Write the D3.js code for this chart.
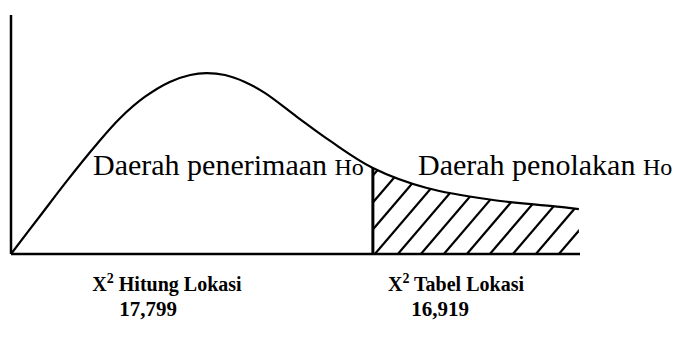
<!DOCTYPE html>
<html>
<head>
<meta charset="utf-8">
<script src="https://cdn.jsdelivr.net/npm/d3@7"></script>
<style>
  html, body { margin: 0; padding: 0; background: #fff; }
  svg { display: block; }
  text { font-family: "Liberation Serif", "Times New Roman", serif; fill: #000; }
</style>
</head>
<body>
<svg id="chart" width="675" height="339"></svg>
<script>
// Chi-square density sketch (arbitrary units, 0–100 on both axes)
const curveX = [0, 5.1, 9.8, 14.8, 19.2, 23.5, 27.9, 31.5, 34.3, 37.6, 41.1, 44.6, 50.3, 56.1, 63.6, 73.1, 84.7, 96.5, 99.8];
const curveY = [0, 15.9, 30.5, 45.2, 56.9, 65.7, 72.0, 74.9, 75.7, 74.9, 72.0, 67.4, 57.3, 47.3, 36.0, 27.6, 22.6, 19.7, 18.8];

// Critical value separating acceptance and rejection regions
const criticalX = 63.6;

// Region labels
const regionLabels = ["Daerah penerimaan", "Daerah penolakan"];
const regionSub = "Ho";

// Statistic labels below the axis
const statNames = ["Hitung Lokasi", "Tabel Lokasi"];
const statValues = ["17,799", "16,919"];

const svg = d3.select("#chart");

const x = d3.scaleLinear().domain([0, 100]).range([11, 580]);
const y = d3.scaleLinear().domain([0, 100]).range([254, 15]);

const pts = curveX.map((v, i) => [v, curveY[i]]);
const critY = curveY[curveX.indexOf(criticalX)];

const smooth = d3.curveCatmullRom.alpha(0.5);

const line = d3.line()
  .x(d => x(d[0]))
  .y(d => y(d[1]))
  .curve(smooth);

// Rejection region (tail) used as clip for the hatching
const tail = pts.filter(d => d[0] >= criticalX);
const area = d3.area()
  .x(d => x(d[0]))
  .y0(y(0))
  .y1(d => y(d[1]))
  .curve(smooth);

svg.append("clipPath").attr("id", "tailClip")
  .append("path").attr("d", area(tail));

// Hatching: parallel diagonal strokes
const hatchStep = 23;      // px between strokes along the axis
const hatchSlope = 1.17;   // rise per px
const x0 = x(criticalX), x1 = x(100), yb = y(0);
const hatch = svg.append("g").attr("clip-path", "url(#tailClip)");
d3.range(x0 - 4 * hatchStep + 2, x1 + hatchStep, hatchStep).forEach(bx => {
  hatch.append("line")
    .attr("x1", bx).attr("y1", yb)
    .attr("x2", bx + 120).attr("y2", yb - 120 * hatchSlope)
    .attr("stroke", "#000").attr("stroke-width", 2.2);
});

// Axes
svg.append("line")
  .attr("x1", x(0)).attr("y1", y(0)).attr("x2", x(0)).attr("y2", y(100))
  .attr("stroke", "#000").attr("stroke-width", 2.5);
svg.append("line")
  .attr("x1", x(0)).attr("y1", y(0)).attr("x2", x(100)).attr("y2", y(0))
  .attr("stroke", "#000").attr("stroke-width", 2.5);

// Density curve
svg.append("path")
  .attr("d", line(pts))
  .attr("fill", "none")
  .attr("stroke", "#000")
  .attr("stroke-width", 2.2);

// Critical value line
svg.append("line")
  .attr("x1", x(criticalX)).attr("y1", y(0))
  .attr("x2", x(criticalX)).attr("y2", y(critY))
  .attr("stroke", "#000").attr("stroke-width", 3);

// Region labels
const regionPos = [[93, 175], [418, 175]];
regionLabels.forEach((t, i) => {
  const tx = svg.append("text")
    .attr("x", regionPos[i][0]).attr("y", regionPos[i][1])
    .style("font-size", "30px");
  tx.append("tspan").text(t + " ");
  tx.append("tspan").style("font-size", "24px").text(regionSub);
});

// Statistic labels
const statPos = [[167, 148], [456, 440]];
statNames.forEach((t, i) => {
  const tx = svg.append("text")
    .attr("x", statPos[i][0]).attr("y", 291)
    .attr("text-anchor", "middle")
    .style("font-size", "20px").style("font-weight", "bold");
  tx.append("tspan").text("X");
  tx.append("tspan").attr("dy", -8).style("font-size", "14px").text("2");
  tx.append("tspan").attr("dy", 8).text(" " + t);
  svg.append("text")
    .attr("x", statPos[i][1]).attr("y", 316)
    .attr("text-anchor", "middle")
    .style("font-size", "21px").style("font-weight", "bold")
    .text(statValues[i]);
});
</script>
</body>
</html>
